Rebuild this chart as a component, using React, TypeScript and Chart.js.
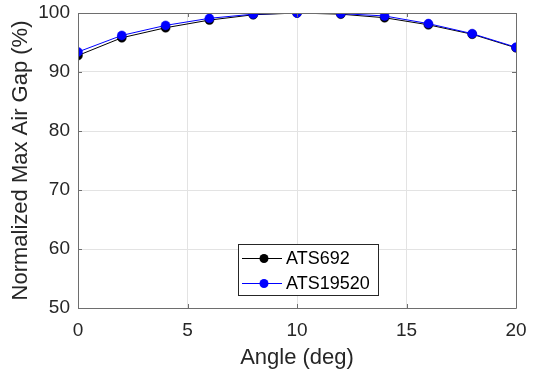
import React, { useEffect, useRef } from "react";
import { Chart, registerables } from "chart.js";

Chart.register(...registerables);

const angles = [0, 2, 4, 6, 8, 10, 12, 14, 16, 18, 20];
const ats692 = [92.8, 95.8, 97.5, 98.8, 99.7, 100, 99.8, 99.2, 98.0, 96.4, 94.1];
const ats19520 = [93.4, 96.2, 97.9, 99.1, 99.8, 100, 99.9, 99.5, 98.2, 96.5, 94.2];
const seriesLabels = ["ATS692", "ATS19520"];
const seriesColors = ["#000000", "#0000ff"];
const xTitle = "Angle (deg)";
const yTitle = "Normalized Max Air Gap (%)";

const FONT = "'Liberation Sans', Arial, sans-serif";
const AXIS = "#262626";

const boxPlugin = {
  id: "boxPlugin",
  afterDraw(chart: any) {
    const { ctx, chartArea: a, scales } = chart;
    ctx.save();
    ctx.strokeStyle = "#6e6e6e";
    ctx.lineWidth = 1;
    ctx.beginPath();
    ctx.rect(Math.round(a.left) + 0.5, Math.round(a.top) + 0.5, Math.round(a.right - a.left), Math.round(a.bottom - a.top));
    ctx.stroke();
    const tl = 4;
    ctx.beginPath();
    scales.x.ticks.forEach((t: any) => {
      const px = Math.round(scales.x.getPixelForValue(t.value)) + 0.5;
      ctx.moveTo(px, a.bottom);
      ctx.lineTo(px, a.bottom - tl);
      ctx.moveTo(px, a.top);
      ctx.lineTo(px, a.top + tl);
    });
    scales.y.ticks.forEach((t: any) => {
      const py = Math.round(scales.y.getPixelForValue(t.value)) + 0.5;
      ctx.moveTo(a.left, py);
      ctx.lineTo(a.left + tl, py);
      ctx.moveTo(a.right, py);
      ctx.lineTo(a.right - tl, py);
    });
    ctx.stroke();

    // legend
    const lx = 238, ly = 244, lw = 140, lh = 51;
    ctx.fillStyle = "#ffffff";
    ctx.fillRect(lx, ly, lw, lh);
    ctx.strokeStyle = "#262626";
    ctx.strokeRect(lx + 0.5, ly + 0.5, lw, lh);
    ctx.font = `18px ${FONT}`;
    ctx.textBaseline = "middle";
    ctx.textAlign = "left";
    chart.data.datasets.forEach((ds: any, i: number) => {
      const y = ly + 14.5 + i * 25;
      ctx.strokeStyle = ds.borderColor;
      ctx.lineWidth = 1;
      ctx.beginPath();
      ctx.moveTo(242, y);
      ctx.lineTo(282, y);
      ctx.stroke();
      ctx.fillStyle = ds.pointBackgroundColor;
      ctx.beginPath();
      ctx.arc(264, y, 4.5, 0, Math.PI * 2);
      ctx.fill();
      ctx.fillStyle = "#000000";
      ctx.fillText(ds.label, 286, y + 1);
    });
    ctx.restore();
  },
};

export default function App() {
  const ref = useRef<HTMLCanvasElement>(null);
  useEffect(() => {
    document.body.style.margin = "0";
    const data = [ats692, ats19520];
    const chart = new Chart(ref.current!, {
      type: "line",
      data: {
        datasets: seriesLabels.map((label, i) => ({
          label,
          data: angles.map((a, j) => ({ x: a, y: data[i][j] })),
          borderColor: seriesColors[i],
          backgroundColor: seriesColors[i],
          pointBackgroundColor: seriesColors[i],
          pointBorderColor: seriesColors[i],
          pointRadius: 4.5,
          pointBorderWidth: 0.5,
          borderWidth: 1,
          tension: 0,
          order: i === 0 ? 2 : 1,
        })),
      },
      options: {
        responsive: false,
        animation: false,
        layout: { padding: { top: 13, right: 19, left: 0, bottom: 0 } },
        plugins: { legend: { display: false }, tooltip: { enabled: false } },
        scales: {
          x: {
            type: "linear",
            min: 0,
            max: 20,
            ticks: { stepSize: 5, color: AXIS, font: { family: FONT, size: 19 }, padding: 11 },
            grid: { color: "#e3e3e3", drawTicks: false },
            border: { display: false },
            title: { display: true, text: xTitle, color: AXIS, font: { family: FONT, size: 22 }, padding: { top: 6, bottom: 6 } },
            afterFit(scale: any) {
              scale.height = 69;
              scale.paddingLeft = 0;
              scale.paddingRight = 0;
            },
          },
          y: {
            min: 50,
            max: 100,
            ticks: { stepSize: 10, color: AXIS, font: { family: FONT, size: 19 }, padding: 8 },
            grid: { color: "#e3e3e3", drawTicks: false },
            border: { display: false },
            title: { display: true, text: yTitle, color: AXIS, font: { family: FONT, size: 22 }, padding: { top: 8, bottom: 8 } },
            afterFit(scale: any) {
              scale.width = 78;
              scale.paddingTop = 0;
              scale.paddingBottom = 0;
            },
          },
        },
      },
      plugins: [boxPlugin],
    });
    return () => chart.destroy();
  }, []);
  return <canvas ref={ref} width={535} height={377} style={{ display: "block" }} />;
}
